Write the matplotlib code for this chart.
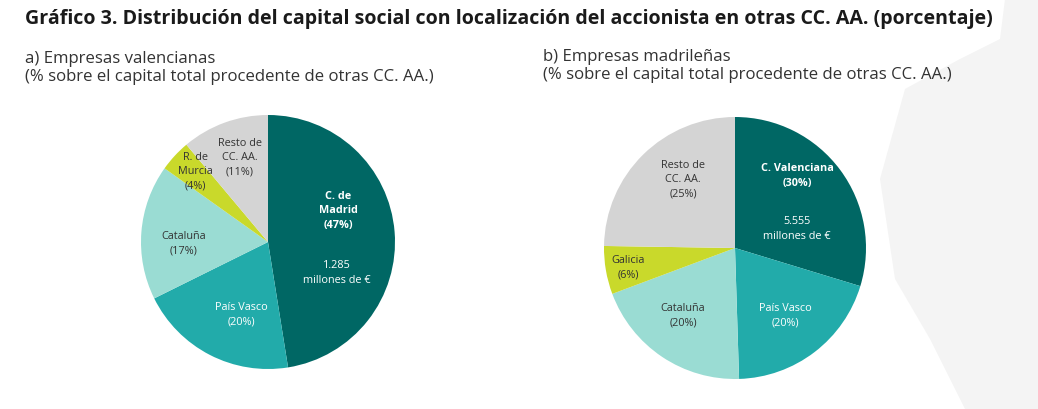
import matplotlib.pyplot as plt
from matplotlib.patches import Polygon

plt.rcParams['font.family'] = ['Open Sans', 'DejaVu Sans']

# data
val_labels = ['C. de\nMadrid\n(47%)', 'País Vasco\n(20%)', 'Cataluña\n(17%)',
              'R. de\nMurcia\n(4%)', 'Resto de\nCC. AA.\n(11%)']
val_shares = [47, 20, 17, 4, 11]
val_total = '1.285\nmillones de €'

mad_labels = ['C. Valenciana\n(30%)', 'País Vasco\n(20%)', 'Cataluña\n(20%)',
              'Galicia\n(6%)', 'Resto de\nCC. AA.\n(25%)']
mad_shares = [30, 20, 20, 6, 25]
mad_total = '5.555\nmillones de €'

colors = ['#006764', '#22abaa', '#9adcd3', '#c9d92b', '#d4d4d4']
txt_colors = ['white', 'white', '#333333', '#333333', '#333333']
bold = [True, False, False, False, False]

# label placement (pixels relative to pie centre), styling only
val_pos = [(70, 32), (-27, -72), (-84, -1), (-73, 71), (-28, 85)]
val_total_pos = (69, -30)
mad_pos = [(62, 73), (50, -67), (-52, -67), (-107, -19), (-52, 69)]
mad_total_pos = (62, 20)

W, H = 1038, 410
fig = plt.figure(figsize=(W / 100, H / 100), dpi=100)
fig.patch.set_facecolor('white')

# faint watermark shape on the right
wm = Polygon([(1005 / W, 1), (1, 1), (1, 0), (965 / W, 0), (930 / W, 70 / H),
              (895 / W, 130 / H), (880 / W, 230 / H), (905 / W, 320 / H),
              (960 / W, 350 / H), (1000 / W, 370 / H)],
             closed=True, transform=fig.transFigure, facecolor='#f4f4f4',
             edgecolor='none', zorder=0)
fig.patches.append(wm)

fig.text(25 / W, 1 - 19 / H,
         'Gráfico 3. Distribución del capital social con localización del accionista en otras CC. AA. (porcentaje)',
         fontsize=14.1, fontweight='bold', color='#1a1a1a', va='center', ha='left')
fig.text(25 / W, 1 - 68 / H,
         'a) Empresas valencianas\n(% sobre el capital total procedente de otras CC. AA.)',
         fontsize=12.1, color='#333333', va='center', ha='left', linespacing=1.15)
fig.text(543 / W, 1 - 66 / H,
         'b) Empresas madrileñas\n(% sobre el capital total procedente de otras CC. AA.)',
         fontsize=12.1, color='#333333', va='center', ha='left', linespacing=1.15)


def draw_pie(cx, cy, r, shares, labels, pos, total, total_pos):
    ax = fig.add_axes([(cx - r) / W, (H - cy - r) / H, 2 * r / W, 2 * r / H])
    ax.pie(shares, colors=colors, startangle=90, counterclock=False, radius=1,
           wedgeprops=dict(linewidth=0))
    ax.set_xlim(-1, 1)
    ax.set_ylim(-1, 1)
    ax.axis('off')
    for lab, (dx, dy), tc, b in zip(labels, pos, txt_colors, bold):
        ax.text(dx / r, dy / r, lab, ha='center', va='center', fontsize=7.8,
                color=tc, fontweight='bold' if b else 'normal', linespacing=1.4)
    ax.text(total_pos[0] / r, total_pos[1] / r, total, ha='center', va='center',
            fontsize=7.8, color='white', linespacing=1.4)


draw_pie(268, 243, 127, val_shares, val_labels, val_pos, val_total, val_total_pos)
draw_pie(735, 249, 131, mad_shares, mad_labels, mad_pos, mad_total, mad_total_pos)

fig.savefig('out.png', dpi=100)
